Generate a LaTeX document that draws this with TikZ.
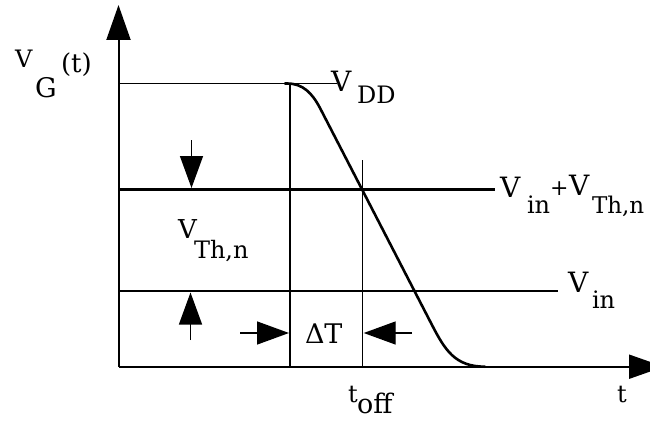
\documentclass[tikz,border=0pt]{standalone}
\usepackage{fontspec}
\setmainfont{DejaVu Serif}
\usetikzlibrary{arrows.meta}
\tikzset{
  lbl/.style={inner sep=0pt, outer sep=0pt, anchor=base west},
  axisline/.style={line width=2pt, -{Triangle[length=35pt,width=24pt]}},
  thinline/.style={line width=1.4pt},
  heavyline/.style={line width=2.6pt},
  curveline/.style={line width=2.6pt, line cap=round},
  marker/.style={line width=1.4pt, -{Triangle[length=32pt,width=23pt]}},
}
\newcommand{\fsz}[1]{\fontsize{#1}{#1}\selectfont}
\begin{document}
\begin{tikzpicture}[x=1pt,y=-1pt]
\useasboundingbox (0,0) rectangle (650,420);
\clip (0,0) rectangle (650,420);
% axes
\coordinate (O) at (118.5,366.7);
\coordinate (ytip) at (118.5,5);
\coordinate (xtip) at (664,366.7);
\draw[axisline] (O) -- (ytip);
\draw[axisline] (O) -- (xtip);
% level lines
\coordinate (vdd0) at (118.5,83.5);
\coordinate (vdd1) at (337,83.5);
\coordinate (th0) at (118.5,189.5);
\coordinate (th1) at (495,189.5);
\coordinate (vin0) at (118.5,291);
\coordinate (vin1) at (558,291);
\draw[thinline] (vdd0) -- (vdd1);
\draw[heavyline] (th0) -- (th1);
\draw[thinline] (vin0) -- (vin1);
% vertical guides
\coordinate (g1t) at (290,83.5);
\coordinate (g1b) at (290,366.7);
\coordinate (g2t) at (362.7,160);
\coordinate (g2b) at (362.7,366.7);
\draw[thinline] (g1t) -- (g1b);
\draw[thinline] (g2t) -- (g2b);
% waveform
\draw[curveline] (285,83.5) -- (287,83.5) .. controls (303,83.5) and (312,93) .. (320,108)
  -- (432,325) .. controls (445,350) and (455,366.7) .. (485,366.7);
% marker arrows
\coordinate (da0) at (191.5,140);
\coordinate (da1) at (191.5,188);
\coordinate (ua0) at (190.5,340);
\coordinate (ua1) at (190.5,292.5);
\coordinate (ra0) at (240,333);
\coordinate (ra1) at (289,333);
\coordinate (la0) at (412,333);
\coordinate (la1) at (363.7,333);
\draw[marker] (da0) -- (da1);
\draw[marker] (ua0) -- (ua1);
\draw[marker] (ra0) -- (ra1);
\draw[marker] (la0) -- (la1);
% labels
\node[lbl] (vgV) at (15,67) {\fsz{24}V};
\node[lbl] (vgG) at (35,97) {\fsz{27}G};
\node[lbl] (vgt) at (61,73) {\fsz{26}(t)};
\node[lbl] (vddV) at (331,92) {\fsz{28}V};
\node[lbl] (vddD) at (357,103) {\fsz{24}DD};
\node[lbl] (sumV1) at (500,197) {\fsz{28}V};
\node[lbl] (sumin) at (527,213) {\fsz{24}in};
\node[lbl] (sumplus) at (550,195) {\fsz{22}+};
\node[lbl] (sumV2) at (569,195) {\fsz{28}V};
\node[lbl] (sumTh) at (592,213) {\fsz{23}Th,n};
\node[lbl] (vthV) at (178,238) {\fsz{26}V};
\node[lbl] (vthTh) at (194,258) {\fsz{24}Th,n};
\node[lbl] (vinV) at (568,292) {\fsz{28}V};
\node[lbl] (vinin) at (592,308) {\fsz{24}in};
\node[lbl] (dT) at (305,343) {\fsz{27}ΔT};
\node[lbl] (toffT) at (348,402) {\fsz{24}t};
\node[lbl] (toffS) at (357,413) {\fsz{27}off};
\node[lbl] (tlab) at (617,402) {\fsz{24}t};
\end{tikzpicture}
\end{document}
